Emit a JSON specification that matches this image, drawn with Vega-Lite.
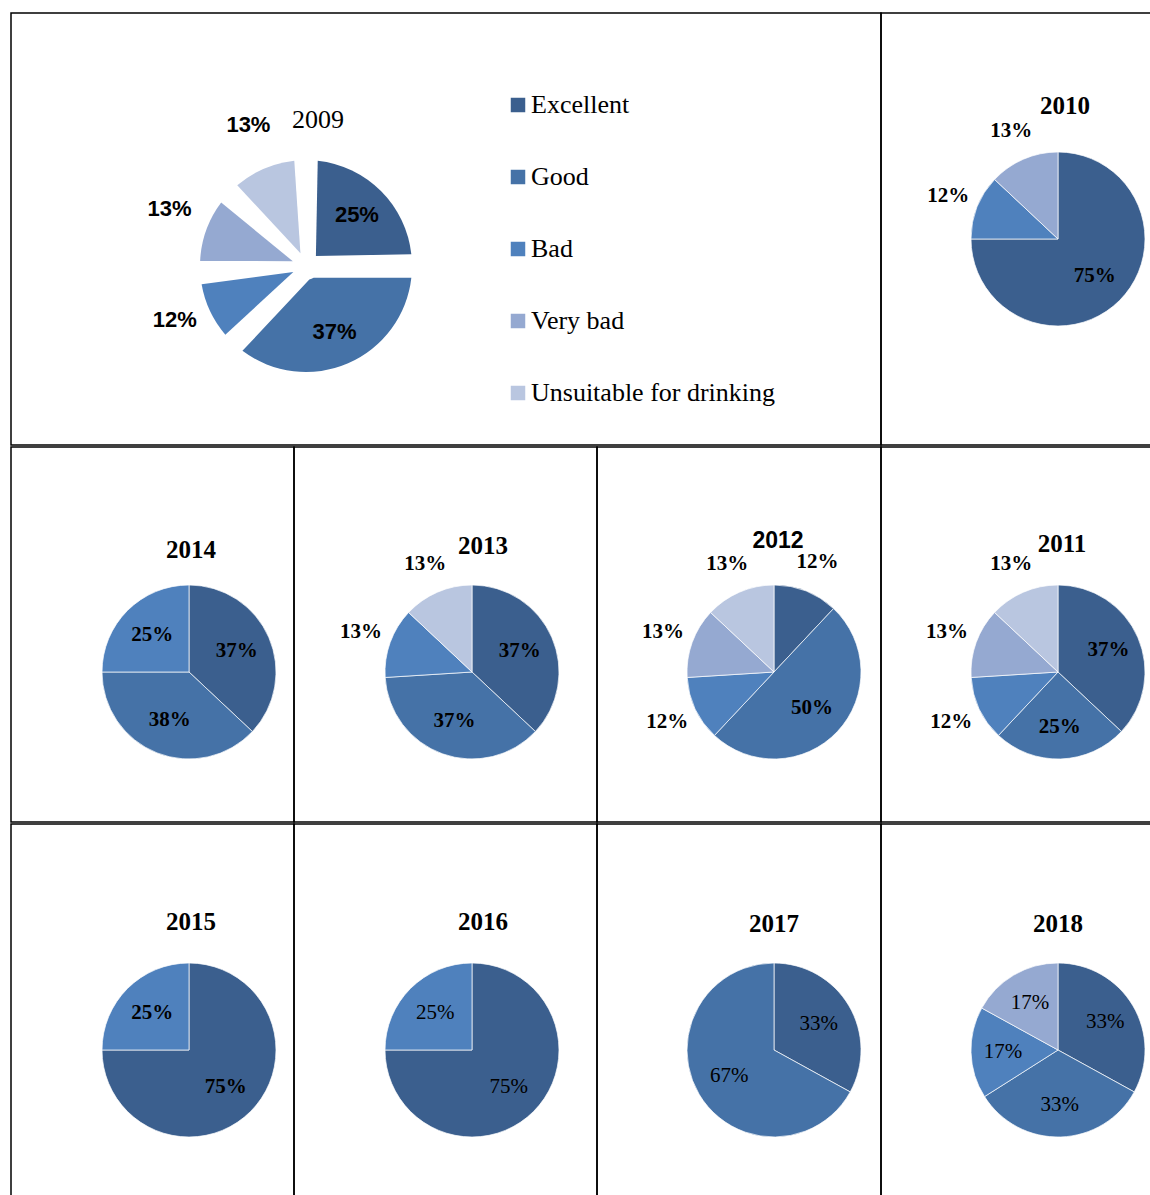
{
"$schema": "https://vega.github.io/schema/vega-lite/v6.json",
"padding": {"left": 10, "top": 12, "right": 0, "bottom": 0},
"background": "white",
"spacing": 0,
"resolve": {"scale": {"color": "independent", "theta": "independent"}},
"config": {"view": {"stroke": "black", "strokeWidth": 1.5}},
"data": {"values": [
{"year": 2009, "quality": "Excellent", "k": 1, "value": 0.25},
{"year": 2009, "quality": "Good", "k": 2, "value": 0.37},
{"year": 2009, "quality": "Bad", "k": 3, "value": 0.12},
{"year": 2009, "quality": "Very bad", "k": 4, "value": 0.13},
{"year": 2009, "quality": "Unsuitable for drinking", "k": 5, "value": 0.13},
{"year": 2010, "quality": "Excellent", "k": 1, "value": 0.75},
{"year": 2010, "quality": "Bad", "k": 3, "value": 0.12},
{"year": 2010, "quality": "Very bad", "k": 4, "value": 0.13},
{"year": 2011, "quality": "Excellent", "k": 1, "value": 0.37},
{"year": 2011, "quality": "Good", "k": 2, "value": 0.25},
{"year": 2011, "quality": "Bad", "k": 3, "value": 0.12},
{"year": 2011, "quality": "Very bad", "k": 4, "value": 0.13},
{"year": 2011, "quality": "Unsuitable for drinking", "k": 5, "value": 0.13},
{"year": 2012, "quality": "Excellent", "k": 1, "value": 0.12},
{"year": 2012, "quality": "Good", "k": 2, "value": 0.50},
{"year": 2012, "quality": "Bad", "k": 3, "value": 0.12},
{"year": 2012, "quality": "Very bad", "k": 4, "value": 0.13},
{"year": 2012, "quality": "Unsuitable for drinking", "k": 5, "value": 0.13},
{"year": 2013, "quality": "Excellent", "k": 1, "value": 0.37},
{"year": 2013, "quality": "Good", "k": 2, "value": 0.37},
{"year": 2013, "quality": "Bad", "k": 3, "value": 0.13},
{"year": 2013, "quality": "Unsuitable for drinking", "k": 5, "value": 0.13},
{"year": 2014, "quality": "Excellent", "k": 1, "value": 0.37},
{"year": 2014, "quality": "Good", "k": 2, "value": 0.38},
{"year": 2014, "quality": "Bad", "k": 3, "value": 0.25},
{"year": 2015, "quality": "Excellent", "k": 1, "value": 0.75},
{"year": 2015, "quality": "Bad", "k": 3, "value": 0.25},
{"year": 2016, "quality": "Excellent", "k": 1, "value": 0.75},
{"year": 2016, "quality": "Bad", "k": 3, "value": 0.25},
{"year": 2017, "quality": "Excellent", "k": 1, "value": 0.33},
{"year": 2017, "quality": "Good", "k": 2, "value": 0.67},
{"year": 2018, "quality": "Excellent", "k": 1, "value": 0.33},
{"year": 2018, "quality": "Good", "k": 2, "value": 0.33},
{"year": 2018, "quality": "Bad", "k": 3, "value": 0.17},
{"year": 2018, "quality": "Very bad", "k": 4, "value": 0.17}
]},
"vconcat": [
{"spacing": 0, "bounds": "flush", "resolve": {"scale": {"color": "independent", "theta": "independent"}},
 "hconcat": [
  {"width": 870, "height": 432, "view": {"stroke": "black", "strokeWidth": 1.5},
   "title": {"text": "2009", "frame": "group", "anchor": "start", "align": "center", "dx": 307, "offset": -141, "baseline": "alphabetic", "font": "Liberation Serif", "fontSize": 26, "fontWeight": "normal", "color": "black"},
   "transform": [{"filter": "datum.year == 2009"}],
   "encoding": {"theta": {"field": "value", "type": "quantitative", "stack": true}, "order": {"field": "k", "type": "quantitative"}},
   "layer": [
    {"mark": {"type": "arc", "x": 295, "y": 253, "outerRadius": 106, "innerRadius": 14, "padAngle": 0.22},
     "encoding": {"color": {"field": "quality", "type": "nominal",
       "scale": {"domain": ["Excellent", "Good", "Bad", "Very bad", "Unsuitable for drinking"], "range": ["#3b5f8e", "#4572a7", "#4f81bd", "#95a9d1", "#b9c6e0"]},
       "legend": {"orient": "none", "legendX": 494, "legendY": 79, "title": null, "symbolType": "square", "symbolSize": 210, "symbolStrokeWidth": 0, "labelFont": "Liberation Serif", "labelFontSize": 26, "labelColor": "black", "labelOffset": 0, "rowPadding": 46, "labelLimit": 400}}}},
    {"mark": {"type": "text", "x": 295, "y": 253, "radius": 72, "font": "Liberation Sans", "fontSize": 22, "fontWeight": "bold", "fill": "black"},
     "encoding": {"detail": {"field": "quality", "type": "nominal"}, "text": {"condition": {"test": "datum.value >= 0.2", "field": "value", "type": "quantitative", "format": ".0%"}, "value": ""}}},
    {"mark": {"type": "text", "x": 295, "y": 253, "radius": 145, "dy": -8, "font": "Liberation Sans", "fontSize": 22, "fontWeight": "bold", "fill": "black"},
     "encoding": {"detail": {"field": "quality", "type": "nominal"}, "text": {"condition": {"test": "datum.value < 0.2", "field": "value", "type": "quantitative", "format": ".0%"}, "value": ""}}}
   ]},
  {"width": 271, "height": 432, "view": {"stroke": "black", "strokeWidth": 1.5},
   "title": {"text": "2010", "frame": "group", "anchor": "start", "align": "center", "dx": 184, "offset": -126, "baseline": "alphabetic", "font": "Liberation Serif", "fontSize": 25, "fontWeight": "bold", "color": "black"},
   "transform": [{"filter": "datum.year == 2010"}],
   "encoding": {"theta": {"field": "value", "type": "quantitative", "stack": true}, "order": {"field": "k", "type": "quantitative"}},
   "layer": [
    {"mark": {"type": "arc", "x": 177, "y": 226, "outerRadius": 87, "stroke": "white", "strokeWidth": 0.7},
     "encoding": {"color": {"field": "quality", "type": "nominal", "scale": {"domain": ["Excellent", "Good", "Bad", "Very bad", "Unsuitable for drinking"], "range": ["#3b5f8e", "#4572a7", "#4f81bd", "#95a9d1", "#b9c6e0"]}, "legend": null}}},
    {"mark": {"type": "text", "x": 177, "y": 226, "radius": 52, "font": "Liberation Serif", "fontSize": 21, "fontWeight": "bold", "fill": "black"},
     "encoding": {"detail": {"field": "quality", "type": "nominal"}, "text": {"condition": {"test": "datum.value >= 0.2", "field": "value", "type": "quantitative", "format": ".0%"}, "value": ""}}},
    {"mark": {"type": "text", "x": 177, "y": 226, "radius": 118, "font": "Liberation Serif", "fontSize": 21, "fontWeight": "bold", "fill": "black"},
     "encoding": {"detail": {"field": "quality", "type": "nominal"}, "text": {"condition": {"test": "datum.value < 0.2", "field": "value", "type": "quantitative", "format": ".0%"}, "value": ""}}}
   ]}
 ]},
{"spacing": 0, "bounds": "flush", "resolve": {"scale": {"color": "independent", "theta": "independent"}},
 "hconcat": [
  {"width": 283, "height": 375, "view": {"stroke": "black", "strokeWidth": 1.5},
   "title": {"text": "2014", "frame": "group", "anchor": "start", "align": "center", "dx": 180, "offset": -136, "baseline": "alphabetic", "font": "Liberation Serif", "fontSize": 25, "fontWeight": "bold", "color": "black"},
   "transform": [{"filter": "datum.year == 2014"}],
   "encoding": {"theta": {"field": "value", "type": "quantitative", "stack": true}, "order": {"field": "k", "type": "quantitative"}},
   "layer": [
    {"mark": {"type": "arc", "x": 178, "y": 225, "outerRadius": 87, "stroke": "white", "strokeWidth": 0.7},
     "encoding": {"color": {"field": "quality", "type": "nominal", "scale": {"domain": ["Excellent", "Good", "Bad", "Very bad", "Unsuitable for drinking"], "range": ["#3b5f8e", "#4572a7", "#4f81bd", "#95a9d1", "#b9c6e0"]}, "legend": null}}},
    {"mark": {"type": "text", "x": 178, "y": 225, "radius": 52, "font": "Liberation Serif", "fontSize": 21, "fontWeight": "bold", "fill": "black"},
     "encoding": {"detail": {"field": "quality", "type": "nominal"}, "text": {"condition": {"test": "datum.value >= 0.2", "field": "value", "type": "quantitative", "format": ".0%"}, "value": ""}}},
    {"mark": {"type": "text", "x": 178, "y": 225, "radius": 118, "font": "Liberation Serif", "fontSize": 21, "fontWeight": "bold", "fill": "black"},
     "encoding": {"detail": {"field": "quality", "type": "nominal"}, "text": {"condition": {"test": "datum.value < 0.2", "field": "value", "type": "quantitative", "format": ".0%"}, "value": ""}}}
   ]},
  {"width": 303, "height": 375, "view": {"stroke": "black", "strokeWidth": 1.5},
   "title": {"text": "2013", "frame": "group", "anchor": "start", "align": "center", "dx": 189, "offset": -132, "baseline": "alphabetic", "font": "Liberation Serif", "fontSize": 25, "fontWeight": "bold", "color": "black"},
   "transform": [{"filter": "datum.year == 2013"}],
   "encoding": {"theta": {"field": "value", "type": "quantitative", "stack": true}, "order": {"field": "k", "type": "quantitative"}},
   "layer": [
    {"mark": {"type": "arc", "x": 178, "y": 225, "outerRadius": 87, "stroke": "white", "strokeWidth": 0.7},
     "encoding": {"color": {"field": "quality", "type": "nominal", "scale": {"domain": ["Excellent", "Good", "Bad", "Very bad", "Unsuitable for drinking"], "range": ["#3b5f8e", "#4572a7", "#4f81bd", "#95a9d1", "#b9c6e0"]}, "legend": null}}},
    {"mark": {"type": "text", "x": 178, "y": 225, "radius": 52, "font": "Liberation Serif", "fontSize": 21, "fontWeight": "bold", "fill": "black"},
     "encoding": {"detail": {"field": "quality", "type": "nominal"}, "text": {"condition": {"test": "datum.value >= 0.2", "field": "value", "type": "quantitative", "format": ".0%"}, "value": ""}}},
    {"mark": {"type": "text", "x": 178, "y": 225, "radius": 118, "font": "Liberation Serif", "fontSize": 21, "fontWeight": "bold", "fill": "black"},
     "encoding": {"detail": {"field": "quality", "type": "nominal"}, "text": {"condition": {"test": "datum.value < 0.2", "field": "value", "type": "quantitative", "format": ".0%"}, "value": ""}}}
   ]},
  {"width": 284, "height": 375, "view": {"stroke": "black", "strokeWidth": 1.5},
   "title": {"text": "2012", "frame": "group", "anchor": "start", "align": "center", "dx": 181, "offset": -124, "baseline": "alphabetic", "font": "Liberation Sans", "fontSize": 23, "fontWeight": "bold", "color": "black"},
   "transform": [{"filter": "datum.year == 2012"}],
   "encoding": {"theta": {"field": "value", "type": "quantitative", "stack": true}, "order": {"field": "k", "type": "quantitative"}},
   "layer": [
    {"mark": {"type": "arc", "x": 177, "y": 225, "outerRadius": 87, "stroke": "white", "strokeWidth": 0.7},
     "encoding": {"color": {"field": "quality", "type": "nominal", "scale": {"domain": ["Excellent", "Good", "Bad", "Very bad", "Unsuitable for drinking"], "range": ["#3b5f8e", "#4572a7", "#4f81bd", "#95a9d1", "#b9c6e0"]}, "legend": null}}},
    {"mark": {"type": "text", "x": 177, "y": 225, "radius": 52, "font": "Liberation Serif", "fontSize": 21, "fontWeight": "bold", "fill": "black"},
     "encoding": {"detail": {"field": "quality", "type": "nominal"}, "text": {"condition": {"test": "datum.value >= 0.2", "field": "value", "type": "quantitative", "format": ".0%"}, "value": ""}}},
    {"mark": {"type": "text", "x": 177, "y": 225, "radius": 118, "font": "Liberation Serif", "fontSize": 21, "fontWeight": "bold", "fill": "black"},
     "encoding": {"detail": {"field": "quality", "type": "nominal"}, "text": {"condition": {"test": "datum.value < 0.2", "field": "value", "type": "quantitative", "format": ".0%"}, "value": ""}}}
   ]},
  {"width": 271, "height": 375, "view": {"stroke": "black", "strokeWidth": 1.5},
   "title": {"text": "2011", "frame": "group", "anchor": "start", "align": "center", "dx": 181, "offset": -130, "baseline": "alphabetic", "font": "Liberation Serif", "fontSize": 25, "fontWeight": "bold", "color": "black"},
   "transform": [{"filter": "datum.year == 2011"}],
   "encoding": {"theta": {"field": "value", "type": "quantitative", "stack": true}, "order": {"field": "k", "type": "quantitative"}},
   "layer": [
    {"mark": {"type": "arc", "x": 177, "y": 225, "outerRadius": 87, "stroke": "white", "strokeWidth": 0.7},
     "encoding": {"color": {"field": "quality", "type": "nominal", "scale": {"domain": ["Excellent", "Good", "Bad", "Very bad", "Unsuitable for drinking"], "range": ["#3b5f8e", "#4572a7", "#4f81bd", "#95a9d1", "#b9c6e0"]}, "legend": null}}},
    {"mark": {"type": "text", "x": 177, "y": 225, "radius": 55, "font": "Liberation Serif", "fontSize": 21, "fontWeight": "bold", "fill": "black"},
     "encoding": {"detail": {"field": "quality", "type": "nominal"}, "text": {"condition": {"test": "datum.value >= 0.2", "field": "value", "type": "quantitative", "format": ".0%"}, "value": ""}}},
    {"mark": {"type": "text", "x": 177, "y": 225, "radius": 118, "font": "Liberation Serif", "fontSize": 21, "fontWeight": "bold", "fill": "black"},
     "encoding": {"detail": {"field": "quality", "type": "nominal"}, "text": {"condition": {"test": "datum.value < 0.2", "field": "value", "type": "quantitative", "format": ".0%"}, "value": ""}}}
   ]}
 ]},
{"spacing": 0, "bounds": "flush", "resolve": {"scale": {"color": "independent", "theta": "independent"}},
 "hconcat": [
  {"width": 283, "height": 373, "view": {"stroke": "black", "strokeWidth": 1.5},
   "title": {"text": "2015", "frame": "group", "anchor": "start", "align": "center", "dx": 180, "offset": -131, "baseline": "alphabetic", "font": "Liberation Serif", "fontSize": 25, "fontWeight": "bold", "color": "black"},
   "transform": [{"filter": "datum.year == 2015"}],
   "encoding": {"theta": {"field": "value", "type": "quantitative", "stack": true}, "order": {"field": "k", "type": "quantitative"}},
   "layer": [
    {"mark": {"type": "arc", "x": 178, "y": 226, "outerRadius": 87, "stroke": "white", "strokeWidth": 0.7},
     "encoding": {"color": {"field": "quality", "type": "nominal", "scale": {"domain": ["Excellent", "Good", "Bad", "Very bad", "Unsuitable for drinking"], "range": ["#3b5f8e", "#4572a7", "#4f81bd", "#95a9d1", "#b9c6e0"]}, "legend": null}}},
    {"mark": {"type": "text", "x": 178, "y": 226, "radius": 52, "font": "Liberation Serif", "fontSize": 21, "fontWeight": "bold", "fill": "black"},
     "encoding": {"detail": {"field": "quality", "type": "nominal"}, "text": {"field": "value", "type": "quantitative", "format": ".0%"}}}
   ]},
  {"width": 303, "height": 373, "view": {"stroke": "black", "strokeWidth": 1.5},
   "title": {"text": "2016", "frame": "group", "anchor": "start", "align": "center", "dx": 189, "offset": -131, "baseline": "alphabetic", "font": "Liberation Serif", "fontSize": 25, "fontWeight": "bold", "color": "black"},
   "transform": [{"filter": "datum.year == 2016"}],
   "encoding": {"theta": {"field": "value", "type": "quantitative", "stack": true}, "order": {"field": "k", "type": "quantitative"}},
   "layer": [
    {"mark": {"type": "arc", "x": 178, "y": 226, "outerRadius": 87, "stroke": "white", "strokeWidth": 0.7},
     "encoding": {"color": {"field": "quality", "type": "nominal", "scale": {"domain": ["Excellent", "Good", "Bad", "Very bad", "Unsuitable for drinking"], "range": ["#3b5f8e", "#4572a7", "#4f81bd", "#95a9d1", "#b9c6e0"]}, "legend": null}}},
    {"mark": {"type": "text", "x": 178, "y": 226, "radius": 52, "font": "Liberation Serif", "fontSize": 21, "fontWeight": "normal", "fill": "black"},
     "encoding": {"detail": {"field": "quality", "type": "nominal"}, "text": {"field": "value", "type": "quantitative", "format": ".0%"}}}
   ]},
  {"width": 284, "height": 373, "view": {"stroke": "black", "strokeWidth": 1.5},
   "title": {"text": "2017", "frame": "group", "anchor": "start", "align": "center", "dx": 177, "offset": -133, "baseline": "alphabetic", "font": "Liberation Serif", "fontSize": 25, "fontWeight": "bold", "color": "black"},
   "transform": [{"filter": "datum.year == 2017"}],
   "encoding": {"theta": {"field": "value", "type": "quantitative", "stack": true}, "order": {"field": "k", "type": "quantitative"}},
   "layer": [
    {"mark": {"type": "arc", "x": 177, "y": 226, "outerRadius": 87, "stroke": "white", "strokeWidth": 0.7},
     "encoding": {"color": {"field": "quality", "type": "nominal", "scale": {"domain": ["Excellent", "Good", "Bad", "Very bad", "Unsuitable for drinking"], "range": ["#3b5f8e", "#4572a7", "#4f81bd", "#95a9d1", "#b9c6e0"]}, "legend": null}}},
    {"mark": {"type": "text", "x": 177, "y": 226, "radius": 52, "font": "Liberation Serif", "fontSize": 21, "fontWeight": "normal", "fill": "black"},
     "encoding": {"detail": {"field": "quality", "type": "nominal"}, "text": {"field": "value", "type": "quantitative", "format": ".0%"}}}
   ]},
  {"width": 271, "height": 373, "view": {"stroke": "black", "strokeWidth": 1.5},
   "title": {"text": "2018", "frame": "group", "anchor": "start", "align": "center", "dx": 177, "offset": -133, "baseline": "alphabetic", "font": "Liberation Serif", "fontSize": 25, "fontWeight": "bold", "color": "black"},
   "transform": [{"filter": "datum.year == 2018"}],
   "encoding": {"theta": {"field": "value", "type": "quantitative", "stack": true}, "order": {"field": "k", "type": "quantitative"}},
   "layer": [
    {"mark": {"type": "arc", "x": 177, "y": 226, "outerRadius": 87, "stroke": "white", "strokeWidth": 0.7},
     "encoding": {"color": {"field": "quality", "type": "nominal", "scale": {"domain": ["Excellent", "Good", "Bad", "Very bad", "Unsuitable for drinking"], "range": ["#3b5f8e", "#4572a7", "#4f81bd", "#95a9d1", "#b9c6e0"]}, "legend": null}}},
    {"mark": {"type": "text", "x": 177, "y": 226, "radius": 55, "font": "Liberation Serif", "fontSize": 21, "fontWeight": "normal", "fill": "black"},
     "encoding": {"detail": {"field": "quality", "type": "nominal"}, "text": {"field": "value", "type": "quantitative", "format": ".0%"}}}
   ]}
 ]}
]
}
